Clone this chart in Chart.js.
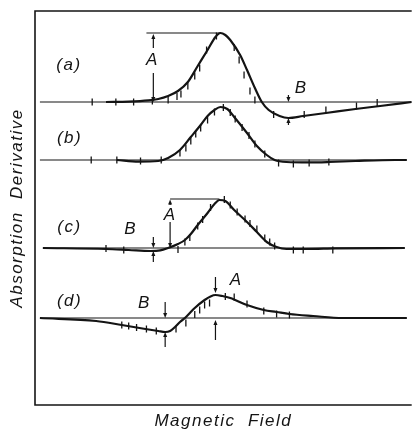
<!DOCTYPE html>
<html>
<head>
<meta charset="utf-8">
<script src="https://cdn.jsdelivr.net/npm/chart.js@4/dist/chart.umd.min.js"></script>
<style>
  html, body { margin: 0; padding: 0; background: #fff; }
  #wrap { width: 417px; height: 433px; }
</style>
</head>
<body>
<div id="wrap"><canvas id="c" width="417" height="433"></canvas></div>
<script>
// ---- Data (magnetic field in arbitrary units, absorption derivative in arbitrary units) ----
const traceNames = ['(a)', '(b)', '(c)', '(d)'];
const traceOffsets = [75.75, 61.25, 39.25, 21.75];
const baselineStart = [1.25, 1.25, 2, 1.25];
const baselineEnd = [95.5, 94.25, 93.75, 94.25];

// (a)
const fieldA = [18, 23.75, 28.75, 31.25, 33.75, 36.25, 38.75, 41.25, 43.75, 45.75, 47, 48.25, 49.5, 52, 53.75, 55.75, 57.5, 59.25, 62, 64.25, 68, 73.75, 81.25, 87.5, 95.5];
const derivA = [0, 0.1, 0.4, 0.75, 1.5, 2.75, 5, 9, 13, 16.25, 17.25, 16.75, 15.5, 11.75, 8, 3.5, 0, -2, -3.5, -4, -3.5, -2.75, -1.75, -1, 0];
const tickFieldA = [14.5, 20.5, 25, 29.75, 33.75, 36, 37, 38.75, 40.5, 41.75, 43.5, 46, 50.5, 51.75, 53, 54.5, 55.75, 60.5, 68.25, 73.75, 81.5, 86.75];
const tickDerivA = [0, 0, 0, 0.25, 0.5, 1.4, 2, 4, 6.5, 8.5, 13, 16.5, 13.6, 10.5, 6.75, 2.75, 0.5, -3.1, -3.1, -2, -1, -0.1];

// (b)
const fieldB = [20.75, 26.25, 31.25, 33.75, 36.75, 39.5, 42, 43.75, 45.5, 47, 48.75, 50.5, 53.75, 56.25, 58.75, 60.75, 63.75, 69.5, 74.5, 81.25, 91.25, 94.25];
const derivB = [0, -0.4, -0.25, 0.5, 2.5, 5.75, 8.75, 11, 12.5, 13.25, 12.75, 10.75, 6.75, 3.5, 1.25, 0, -0.5, -0.6, -0.5, -0.25, 0, 0];
const tickFieldB = [14.25, 20.75, 26.75, 32, 36.75, 38.25, 39.5, 40.75, 42, 43.75, 45.5, 47.75, 49.5, 50.75, 52.5, 54.25, 55.75, 58.25, 61.75, 65.5, 69.5, 74.5];
const tickDerivB = [0, 0, -0.25, 0, 1.75, 3, 4.75, 6.5, 8, 10, 12, 13.1, 11.9, 10.25, 8.1, 6.1, 4, 1.5, -0.75, -1, -0.75, -0.5];

// (c)
const fieldC = [2, 18, 23.75, 29.25, 31.75, 33.75, 36.25, 38, 39.5, 41.25, 43.75, 45.5, 46.75, 48.25, 50.5, 53.75, 56.25, 58.75, 61.25, 63.75, 68.75, 76.25, 93.75];
const derivC = [0, -0.25, -0.5, -0.75, -0.6, 0, 1, 2, 3.5, 5.75, 8.75, 11, 12, 11.75, 9.5, 6.5, 4, 1.5, 0.25, -0.25, -0.25, -0.1, 0];
const tickFieldC = [18, 22.5, 36.25, 38, 39.25, 41.25, 42.5, 44.5, 48, 49.5, 51.25, 53.25, 54.5, 56.25, 58.25, 59.5, 60.75, 65.5, 68, 75.5];
const tickDerivC = [-0.1, -0.5, -0.4, 1.5, 2.6, 5.5, 7.1, 10.1, 12.1, 10.75, 9, 7.25, 6.1, 4.75, 2.5, 1.5, 0.5, -0.5, -0.5, -0.5];

// (d)
const fieldD = [1.25, 15.5, 22, 28, 31.25, 33, 34.25, 35.5, 36.75, 38, 39.25, 40.5, 43, 44.5, 45.75, 47.5, 49.5, 53.75, 58, 61.25, 64.5, 70.5, 78, 94.25];
const derivD = [0, -0.75, -1.75, -2.75, -3.25, -3.5, -3.25, -2.25, -1, 0, 1.25, 2.5, 4.5, 5.4, 5.75, 5.5, 5, 3.25, 2, 1.5, 1, 0.5, 0, 0];
const tickFieldD = [22, 23.75, 25.75, 28.25, 30.75, 35.75, 38.25, 40.5, 41.75, 43, 44.25, 48.25, 50.5, 53.75, 58, 61.25, 64.5];
const tickDerivD = [-1.75, -2, -2.4, -2.75, -3.25, -2.75, -1.25, 0.9, 2, 3.25, 3.75, 5.4, 5.25, 3.5, 1.75, 1, 0.75];

// ---- Annotations (trace index, field, derivative) ----
const peakArrows = [ // [trace, field, fromDeriv, toDeriv]
  [0, 30, 7.25, 0], [0, 30, 13.5, 17.0],
  [0, 64.25, 1.75, 0], [0, 64.25, -5.75, -4],
  [2, 34.25, 6.5, 0], [2, 34.25, 10.75, 12.1],
  [2, 30, 2.75, 0], [2, 30, -3.5, -0.75],
  [3, 33, 4, 0], [3, 33, -7.25, -3.5],
  [3, 45.75, 10.25, 6.25], [3, 45.75, -5.5, -0.5]
];
const levelLines = [ // [trace, fieldFrom, fieldTo, deriv]
  [0, 28.25, 47, 17.25],
  [2, 34.25, 46.75, 12.25]
];
const labelTexts = [ // [trace, field, deriv, text, size]
  [0, 8.6, 9.25, '(a)', 17], [1, 8.75, 5.5, '(b)', 17], [2, 8.75, 5.1, '(c)', 17], [3, 8.75, 4.25, '(d)', 17],
  [0, 29.75, 10.5, 'A', 17], [0, 67.5, 3.5, 'B', 17],
  [2, 34.25, 8.25, 'A', 17], [2, 24.25, 4.75, 'B', 17],
  [3, 27.75, 3.75, 'B', 17], [3, 51, 9.5, 'A', 17]
];

const INK = '#141414';
const FONT = "'Liberation Sans', Arial, sans-serif";

const curves = [[fieldA, derivA], [fieldB, derivB], [fieldC, derivC], [fieldD, derivD]];
const ticks = [[tickFieldA, tickDerivA], [tickFieldB, tickDerivB], [tickFieldC, tickDerivC], [tickFieldD, tickDerivD]];

const datasets = [];
traceOffsets.forEach((off, i) => {
  datasets.push({
    label: traceNames[i] + ' baseline',
    data: [{x: baselineStart[i], y: off}, {x: baselineEnd[i], y: off}],
    borderColor: INK, borderWidth: 1.2, pointRadius: 0, tension: 0
  });
  datasets.push({
    label: traceNames[i],
    data: curves[i][0].map((f, k) => ({x: f, y: off + curves[i][1][k]})),
    borderColor: INK, borderWidth: 2.2, pointRadius: 0,
    cubicInterpolationMode: 'monotone'
  });
  datasets.push({
    label: traceNames[i] + ' points',
    data: ticks[i][0].map((f, k) => ({x: f, y: off + ticks[i][1][k]})),
    showLine: false, pointStyle: 'line', rotation: 90, pointRadius: 3.5,
    pointBorderColor: INK, pointBorderWidth: 1.3, borderColor: INK
  });
});

const spacingPlugin = {
  id: 'spacing',
  beforeDraw(chart) { chart.ctx.letterSpacing = '1.5px'; }
};

const framePlugin = {
  id: 'frame',
  afterDatasetsDraw(chart) {
    const {ctx, chartArea: a, scales: {x, y}} = chart;
    ctx.save();
    ctx.strokeStyle = INK;
    ctx.fillStyle = INK;
    // frame: left, top, bottom
    ctx.lineWidth = 1.6;
    ctx.beginPath();
    ctx.moveTo(a.right, a.top); ctx.lineTo(a.left, a.top); ctx.lineTo(a.left, a.bottom); ctx.lineTo(a.right, a.bottom);
    ctx.stroke();
    // level lines
    ctx.lineWidth = 1.2;
    levelLines.forEach(([t, f1, f2, d]) => {
      const py = y.getPixelForValue(traceOffsets[t] + d);
      ctx.beginPath(); ctx.moveTo(x.getPixelForValue(f1), py); ctx.lineTo(x.getPixelForValue(f2), py); ctx.stroke();
    });
    // arrows
    peakArrows.forEach(([t, f, d1, d2]) => {
      const px = x.getPixelForValue(f);
      const y1 = y.getPixelForValue(traceOffsets[t] + d1);
      const y2 = y.getPixelForValue(traceOffsets[t] + d2);
      const dir = y2 > y1 ? 1 : -1;
      ctx.lineWidth = 1.2;
      ctx.beginPath(); ctx.moveTo(px, y1); ctx.lineTo(px, y2 - dir * 3); ctx.stroke();
      ctx.beginPath();
      ctx.moveTo(px, y2); ctx.lineTo(px - 2, y2 - dir * 5); ctx.lineTo(px + 2, y2 - dir * 5); ctx.closePath();
      ctx.fill();
    });
    // labels
    ctx.letterSpacing = '1.5px';
    ctx.textAlign = 'center';
    ctx.textBaseline = 'middle';
    labelTexts.forEach(([t, f, d, txt, size]) => {
      ctx.font = 'italic ' + size + 'px ' + FONT;
      ctx.fillText(txt, x.getPixelForValue(f), y.getPixelForValue(traceOffsets[t] + d));
    });
    ctx.restore();
  }
};

new Chart(document.getElementById('c'), {
  type: 'line',
  data: { datasets },
  options: {
    responsive: false,
    animation: false,
    events: [],
    layout: { padding: { top: 11, right: 0, left: 0, bottom: 0 } },
    plugins: { legend: { display: false }, tooltip: { enabled: false } },
    scales: {
      x: {
        type: 'linear', min: 0, max: 95.5,
        ticks: { display: false }, grid: { display: false }, border: { display: false },
        title: { display: true, text: 'Magnetic  Field', color: INK,
                 font: { family: FONT, size: 17, style: 'italic' }, padding: { top: 0, bottom: 2 } },
        afterFit(s) { s.height = 28; }
      },
      y: {
        type: 'linear', min: 0, max: 98.5,
        ticks: { display: false }, grid: { display: false }, border: { display: false },
        title: { display: true, text: 'Absorption  Derivative', color: INK,
                 font: { family: FONT, size: 17, style: 'italic' }, padding: { top: 7, bottom: 0 } },
        afterFit(s) { s.width = 35; }
      }
    }
  },
  plugins: [spacingPlugin, framePlugin]
});
</script>
</body>
</html>
